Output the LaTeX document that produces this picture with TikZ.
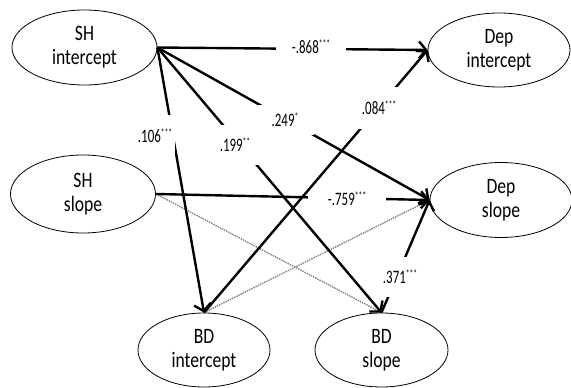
\documentclass[tikz,border=0pt]{standalone}
\usepackage{fontspec}
\setmainfont{Carlito}[FakeStretch=0.8]
\newfontfamily\labfont{Carlito}[FakeStretch=0.68]
\usetikzlibrary{shapes.geometric,arrows.meta}
\newcommand\stars[1]{\raisebox{6pt}{\fontsize{11}{11}\selectfont #1}}
\begin{document}
\begin{tikzpicture}[x=1pt,y=-1pt,
 var/.style={ellipse,draw,line width=0.8pt,inner sep=0pt,align=center,font=\fontsize{22}{24}\selectfont},
 arr/.style={line width=2.4pt,-{Straight Barb[length=7pt,width=17pt]}},
 weak/.style={densely dotted,line width=1.4pt,gray},
 coef/.style={fill=white,inner sep=0pt,font=\labfont\fontsize{19}{19}\selectfont}]
\useasboundingbox (0,0) rectangle (571,388);
\node[var,minimum width=145pt,minimum height=75pt] (SHi) at (84.5,47.5) {SH\\intercept};
\node[var,minimum width=145pt,minimum height=78pt] (SHs) at (83,194) {SH\\slope};
\node[var,minimum width=142pt,minimum height=74pt] (Depi) at (499,50) {Dep\\intercept};
\node[var,minimum width=142pt,minimum height=75pt] (Deps) at (501,200) {Dep\\slope};
\node[var,minimum width=132pt,minimum height=74pt] (BDi) at (204,350) {BD\\intercept};
\node[var,minimum width=133pt,minimum height=74pt] (BDs) at (381.5,350) {BD\\slope};
% weak paths
\draw[weak] (SHs.east) -- (BDs.north);
\draw[weak] (BDi.north) -- (Deps.west);
% paths
\draw[arr] (SHi.east) -- (Depi.west);
\draw[arr] (SHi.east) -- (BDi.north);
\draw[arr] (SHi.east) -- (BDs.north);
\draw[arr] (SHi.east) -- (Deps.west);
\draw[arr] (BDi.north) -- (Depi.west);
\draw[arr] (SHs.east) -- (Deps.west);
\draw[arr] (BDs.north) -- (Deps.west);
% coefficients
\node[coef,minimum width=70pt,minimum height=14pt] (c1) at (311,47) {-.868\stars{***}};
\node[coef,minimum width=40pt,minimum height=42pt] (c2) at (155,136) {.106\stars{***}};
\node[coef,minimum width=46pt,minimum height=40pt] (c3) at (235,145) {.199\stars{**}};
\node[coef,minimum width=58pt,minimum height=30pt] (c4) at (285,120) {.249\stars{*}};
\node[coef,minimum width=40pt,minimum height=42pt] (c5) at (379,108) {.084\stars{***}};
\node[coef,minimum width=78pt,minimum height=14pt] (c6) at (347,199) {-.759\stars{***}};
\node[coef,minimum width=36pt,minimum height=40pt] (c7) at (400,277) {.371\stars{***}};
\end{tikzpicture}
\end{document}
